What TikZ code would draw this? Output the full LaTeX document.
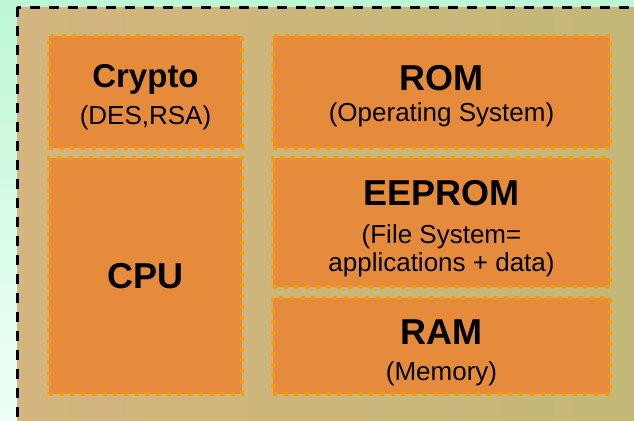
\documentclass[tikz,border=0pt]{standalone}
\usepackage{fontspec}
\setmainfont{Liberation Sans}
\definecolor{mintTop}{HTML}{BDF7D6}
\definecolor{mintBot}{HTML}{EFFFF6}
\definecolor{tanL}{HTML}{D4B57F}
\definecolor{tanR}{HTML}{C2B877}
\definecolor{chipFill}{HTML}{E68B3B}
\definecolor{chipDot}{HTML}{FF9900}

\begin{document}
\begin{tikzpicture}[x=1pt, y=-1pt,
    chip/.style={draw=chipDot, fill=chipFill, line width=4pt,
        dash pattern=on 4pt off 6.7pt, inner sep=0pt},
    head/.style={anchor=base, inner sep=0pt, font=\fontsize{36}{36}\selectfont\bfseries},
    sub/.style={anchor=base, inner sep=0pt, font=\fontsize{26}{28}\selectfont}]

    \useasboundingbox (0,0) rectangle (634,420);
    \clip (0,0) rectangle (634,420);

    % background and card
    \shade[top color=mintTop, bottom color=mintBot] (0,0) rectangle (634,420);
    \path[draw=black, line width=3pt, dash pattern=on 10pt off 9pt,
        left color=tanL, right color=tanR] (17,7.5) rectangle (660,440);

    % left column
    \node[chip, minimum width=193pt, minimum height=112pt] (crypto) at (145.5,92) {};
    \node[chip, minimum width=193pt, minimum height=236pt] (cpu) at (145.5,276) {};
    \node[head, font=\fontsize{33}{33}\selectfont\bfseries] (cryptoT) at (145.5,87) {Crypto};
    \node[sub] (cryptoS) at (145.5,124) {(DES,RSA)};
    \node[head] (cpuT) at (145.5,288) {CPU};

    % right column
    \node[chip, minimum width=337pt, minimum height=112pt] (rom) at (441.5,92) {};
    \node[chip, minimum width=337pt, minimum height=129pt] (eeprom) at (441.5,222.5) {};
    \node[chip, minimum width=337pt, minimum height=96pt] (ram) at (441.5,346) {};

    \node[head] (romT) at (441.5,90) {ROM};
    \node[sub] (romS) at (441.5,121.5) {(Operating System)};
    \node[head] (eepromT) at (441.5,205) {EEPROM};
    \node[sub] (eepromS) at (441.5,243) {(File System=};
    \node[sub] (eepromS2) at (441.5,271) {applications + data)};
    \node[head] (ramT) at (441.5,344) {RAM};
    \node[sub] (ramS) at (441.5,380) {(Memory)};

\end{tikzpicture}
\end{document}
